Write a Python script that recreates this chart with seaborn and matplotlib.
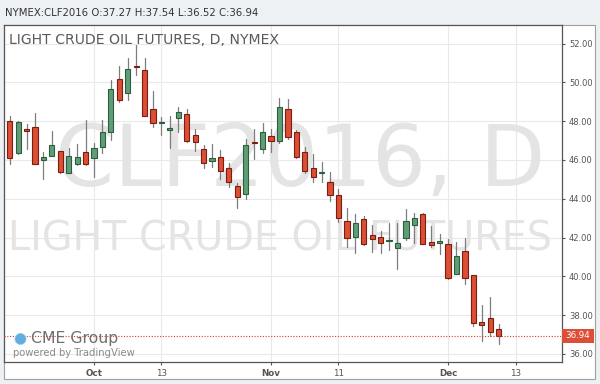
import numpy as np
import pandas as pd
import matplotlib
matplotlib.use("Agg")
import matplotlib.pyplot as plt
import seaborn as sns
from matplotlib.patches import Rectangle, Ellipse

# ---- data ----
opens = [48.00, 46.37, 47.57, 47.71, 45.98, 46.22, 46.46, 45.31, 45.79, 46.39,
         46.08, 46.68, 47.42, 50.15, 49.43, 50.84, 50.62, 48.61, 47.88, 47.52,
         48.14, 48.35, 47.27, 46.58, 45.92, 46.13, 45.57, 44.65, 44.26, 46.94,
         46.55, 47.22, 46.99, 48.61, 47.45, 46.39, 45.58, 45.31, 44.88, 44.17,
         42.87, 42.03, 42.95, 42.13, 42.01, 41.82, 41.44, 41.99, 42.66, 43.23,
         41.75, 41.72, 41.66, 40.10, 41.29, 40.05, 37.64, 37.85, 37.27]
highs = [48.28, 48.00, 47.85, 48.43, 46.41, 47.47, 46.46, 46.61, 46.80, 48.06,
         46.85, 48.06, 50.12, 50.84, 51.23, 51.92, 51.23, 49.55, 48.23, 48.28,
         48.71, 48.60, 47.58, 46.77, 46.80, 46.51, 45.82, 44.83, 47.06, 47.60,
         47.88, 47.58, 49.21, 49.14, 47.54, 46.65, 46.29, 45.87, 45.36, 44.48,
         43.50, 43.21, 43.11, 42.65, 42.33, 42.73, 42.73, 43.47, 43.25, 43.28,
         42.61, 42.18, 41.91, 41.75, 41.96, 40.05, 38.52, 38.95, 37.54]
lows = [45.77, 46.29, 46.55, 45.77, 45.03, 46.20, 45.34, 45.30, 45.74, 45.74,
        45.12, 46.34, 47.03, 49.00, 49.09, 50.38, 48.25, 47.68, 47.28, 46.60,
        47.45, 46.94, 46.48, 45.60, 45.65, 45.00, 44.58, 43.50, 43.97, 46.03,
        46.37, 46.42, 46.89, 47.06, 46.08, 45.31, 44.88, 44.84, 43.90, 42.82,
        41.53, 41.22, 41.61, 41.25, 41.22, 41.34, 40.39, 41.87, 41.73, 41.64,
        41.49, 41.15, 39.85, 40.10, 39.59, 37.44, 36.66, 36.92, 36.52]
closes = [46.12, 47.97, 47.51, 45.79, 46.15, 46.75, 45.38, 46.18, 46.13, 45.77,
          46.61, 47.45, 49.65, 49.09, 50.67, 50.79, 48.28, 47.88, 47.95, 47.66,
          48.45, 46.97, 46.94, 45.86, 46.08, 45.44, 44.88, 44.10, 46.78, 46.87,
          47.44, 46.99, 48.74, 47.16, 46.17, 45.44, 45.10, 45.39, 44.17, 43.00,
          41.96, 42.75, 41.66, 41.91, 41.70, 41.89, 41.72, 42.85, 43.00, 41.66,
          41.61, 41.80, 39.90, 41.05, 39.93, 37.61, 37.47, 37.13, 36.94]
x_tick_pos = [10, 18, 31, 39, 52, 60]
x_tick_labels = ["Oct", "13", "Nov", "11", "Dec", "13"]
x_tick_bold = [True, False, True, False, True, False]
y_ticks = [36, 38, 40, 42, 44, 46, 48, 50, 52]
last_price = 36.94
header = "NYMEX:CLF2016 O:37.27 H:37.54 L:36.52 C:36.94"
title = "LIGHT CRUDE OIL FUTURES, D, NYMEX"

df = pd.DataFrame({"o": opens, "h": highs, "l": lows, "c": closes})
df["idx"] = np.arange(len(df))
df["up"] = df["c"] >= df["o"]

W, H = 600, 384
sns.set_theme(style="white")
plt.rcParams["font.family"] = ["DejaVu Sans"]

fig = plt.figure(figsize=(W / 100, H / 100), dpi=100, facecolor="#eef1f4")

def fx(px):
    return px / W

def fy(py):
    return 1 - py / H

# outer white panel (behind axes)
fig.patches.append(Rectangle((fx(3.5), fy(379)), fx(595) - fx(3.5), fy(25) - fy(379),
                             transform=fig.transFigure, facecolor="white",
                             edgecolor="#a0a0a0", linewidth=0.8, zorder=-5))

L, R, T, B = 4, 562, 25, 362
ax = fig.add_axes([fx(L), fy(B), fx(R) - fx(L), fy(T) - fy(B)])
ax.set_facecolor("white")
ax.set_zorder(1)

# axis scaling
px_per_bar = 8.43
x0 = 9.7
px_per_unit = 19.4
y52 = 43.5
ax.set_xlim((L - x0) / px_per_bar, (R - x0) / px_per_bar)
ax.set_ylim(52 - (B - y52) / px_per_unit, 52 + (y52 - T) / px_per_unit)

# grid
for yt in y_ticks:
    ax.axhline(yt, color="#e9e9e9", lw=0.8, zorder=0)
for xt in x_tick_pos:
    ax.axvline(xt, color="#e9e9e9", lw=0.8, zorder=0)

# watermarks
ax.text(0.53, (fy(163) - fy(B)) / (fy(T) - fy(B)), "CLF2016, D", transform=ax.transAxes,
        ha="center", va="center", fontsize=61, color="#e4e4e4", zorder=0.5)
ax.text(0.495, (fy(239) - fy(B)) / (fy(T) - fy(B)), "LIGHT CRUDE OIL FUTURES",
        transform=ax.transAxes, ha="center", va="center", fontsize=28.5,
        color="#e4e4e4", zorder=0.5)

# wicks via seaborn
wick = pd.DataFrame({
    "idx": np.repeat(df["idx"].values, 2),
    "price": np.column_stack([df["l"].values, df["h"].values]).ravel(),
})
sns.lineplot(data=wick, x="idx", y="price", units="idx", estimator=None,
             color="#7d7d7d", lw=0.9, ax=ax, zorder=2, legend=False)

# bodies
bw = 0.62
for up, fc, ec in [(True, "#5e9e76", "#2c5e3c"), (False, "#dc4e35", "#7a1f10")]:
    sub = df[df["up"] == up]
    bottoms = np.minimum(sub["o"], sub["c"])
    heights = np.maximum(np.abs(sub["c"] - sub["o"]), 0.02)
    ax.bar(sub["idx"], heights, bottom=bottoms, width=bw, color=fc,
           edgecolor=ec, linewidth=0.8, zorder=3)

# last price line
ax.axhline(last_price, color="#e0392a", lw=0.8, ls=(0, (1, 1.5)), zorder=4)

# axes styling
for s in ax.spines.values():
    s.set_visible(True)
    s.set_color("#555555")
    s.set_linewidth(0.9)
ax.yaxis.tick_right()
ax.set_yticks(y_ticks)
ax.set_yticklabels([f"{v:.2f}" for v in y_ticks])
ax.set_xticks(x_tick_pos)
ax.set_xticklabels(x_tick_labels)
for lab, b in zip(ax.get_xticklabels(), x_tick_bold):
    lab.set_fontweight("bold" if b else "normal")
ax.tick_params(axis="y", which="both", right=True, left=False, length=2.5, width=0.8,
               color="#555555", pad=2.5, labelsize=6, labelcolor="#555555")
ax.tick_params(axis="x", which="both", bottom=True, length=2.5, width=0.8,
               color="#555555", pad=2.5, labelsize=6.3, labelcolor="#555555")
ax.set_xlabel("")
ax.set_ylabel("")

# title inside plot
ax.text(fx(9 - L) / (fx(R) - fx(L)), (fy(40) - fy(B)) / (fy(T) - fy(B)), title,
        transform=ax.transAxes, fontsize=10.1, color="#5a5a5a", ha="left", va="center",
        zorder=6)

# CME logo
ax.add_patch(Ellipse(((20.5 - L) / (R - L), (fy(339) - fy(B)) / (fy(T) - fy(B))),
                     11 / (R - L), 11 / (B - T), transform=ax.transAxes,
                     facecolor="#62ade0", edgecolor="#8cc6ee", lw=0.5, zorder=6))
ax.text((31 - L) / (R - L), (fy(339) - fy(B)) / (fy(T) - fy(B)), "CME Group",
        transform=ax.transAxes, fontsize=11.3, color="#6f6f6f",
        ha="left", va="center", zorder=6)
ax.text((13 - L) / (R - L), (fy(353) - fy(B)) / (fy(T) - fy(B)), "powered by TradingView",
        transform=ax.transAxes, fontsize=7.2, color="#8a8a8a",
        ha="left", va="center", zorder=6)

# last price label box
ly = fy(y52 + (52 - last_price) * px_per_unit)
fig.patches.append(Rectangle((fx(562), ly - 7 / H), fx(594) - fx(562), 14 / H,
                             transform=fig.transFigure, facecolor="#dc4e35",
                             edgecolor="none", zorder=5))
fig.text(fx(578), ly, f"{last_price:.2f}", color="white", fontsize=6.3,
         ha="center", va="center", zorder=6)

# header
fig.text(fx(5), fy(13), header, fontsize=7.3, color="#333333", ha="left", va="center")

fig.savefig("out.png", dpi=100, facecolor=fig.get_facecolor())
